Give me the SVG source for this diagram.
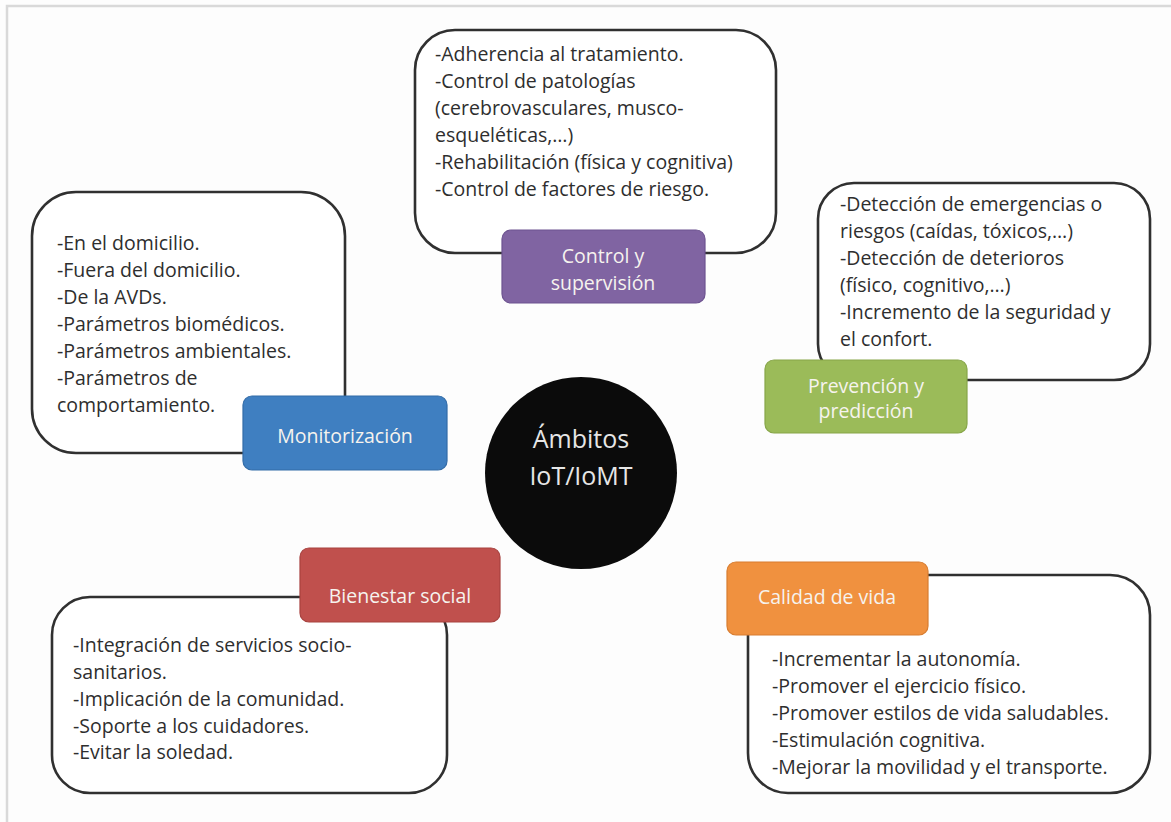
<svg xmlns="http://www.w3.org/2000/svg" width="1171" height="822" viewBox="0 0 1171 822">
<style>
.frame{fill:none;stroke:#d9d9d9;stroke-width:2.5}
.box{fill:#ffffff;stroke:#303030;stroke-width:2.6}
.txt{font-family:"Open Sans","Liberation Sans",sans-serif;font-size:19.5px;fill:#2e2e2e}
.lbl{stroke-width:1.2}
.lt{font-family:"Open Sans","Liberation Sans",sans-serif;font-size:19.5px;fill:#f6f3ee;text-anchor:middle}
.ct{font-family:"Open Sans","Liberation Sans",sans-serif;font-size:25px;fill:#e6e6e6;text-anchor:middle}
</style>
<rect width="1171" height="822" fill="#fdfdfd"/>
<path class="frame" d="M7,822 V6 H1171"/>
<g id="connectors"></g>

<g id="control">
<rect class="box" x="415" y="30" width="361" height="223" rx="40"/>
<text class="txt"><tspan x="435" y="61">-Adherencia al tratamiento.</tspan><tspan x="435" y="88">-Control de patologías</tspan><tspan x="435" y="115">(cerebrovasculares, musco-</tspan><tspan x="435" y="142">esqueléticas,…)</tspan><tspan x="435" y="169">-Rehabilitación (física y cognitiva)</tspan><tspan x="435" y="196">-Control de factores de riesgo.</tspan></text>
<rect class="lbl" x="502" y="230" width="203" height="73" rx="9" fill="#8064a2" stroke="#6d5390"/>
<text class="lt"><tspan x="603" y="263">Control y</tspan><tspan x="603" y="290">supervisión</tspan></text>
</g>

<g id="monitorizacion">
<rect class="box" x="32" y="192" width="313" height="261" rx="44"/>
<text class="txt"><tspan x="57" y="250">-En el domicilio.</tspan><tspan x="57" y="277">-Fuera del domicilio.</tspan><tspan x="57" y="304">-De la AVDs.</tspan><tspan x="57" y="331">-Parámetros biomédicos.</tspan><tspan x="57" y="358">-Parámetros ambientales.</tspan><tspan x="57" y="385">-Parámetros de</tspan><tspan x="57" y="412">comportamiento.</tspan></text>
<rect class="lbl" x="243" y="396" width="204" height="74" rx="9" fill="#3f7fc1" stroke="#336ca8"/>
<text class="lt" x="345" y="443">Monitorización</text>
</g>

<g id="prevencion">
<rect class="box" x="818" y="183" width="332" height="197" rx="36"/>
<text class="txt"><tspan x="840" y="211">-Detección de emergencias o</tspan><tspan x="840" y="238">riesgos (caídas, tóxicos,…)</tspan><tspan x="840" y="265">-Detección de deterioros</tspan><tspan x="840" y="292">(físico, cognitivo,…)</tspan><tspan x="840" y="319">-Incremento de la seguridad y</tspan><tspan x="840" y="346">el confort.</tspan></text>
<rect class="lbl" x="765" y="360" width="202" height="73" rx="9" fill="#9bbb59" stroke="#87a649"/>
<text class="lt"><tspan x="866" y="393">Prevención y</tspan><tspan x="866" y="418">predicción</tspan></text>
</g>

<g id="centro">
<circle cx="581" cy="473" r="96" fill="#0b0b0b"/>
<text class="ct"><tspan x="581" y="448">Ámbitos</tspan><tspan x="581" y="485">IoT/IoMT</tspan></text>
</g>

<g id="bienestar">
<rect class="box" x="52" y="597" width="395" height="196" rx="38"/>
<text class="txt"><tspan x="73" y="652">-Integración de servicios socio-</tspan><tspan x="73" y="679">sanitarios.</tspan><tspan x="73" y="706">-Implicación de la comunidad.</tspan><tspan x="73" y="733">-Soporte a los cuidadores.</tspan><tspan x="73" y="759">-Evitar la soledad.</tspan></text>
<rect class="lbl" x="300" y="548" width="200" height="74" rx="9" fill="#c0504d" stroke="#a8423f"/>
<text class="lt" x="400" y="603">Bienestar social</text>
</g>

<g id="calidad">
<rect class="box" x="748" y="575" width="402" height="218" rx="40"/>
<text class="txt"><tspan x="772" y="666">-Incrementar la autonomía.</tspan><tspan x="772" y="693">-Promover el ejercicio físico.</tspan><tspan x="772" y="720">-Promover estilos de vida saludables.</tspan><tspan x="772" y="747">-Estimulación cognitiva.</tspan><tspan x="772" y="774">-Mejorar la movilidad y el transporte.</tspan></text>
<rect class="lbl" x="727" y="562" width="201" height="73" rx="9" fill="#f0913f" stroke="#d87d30"/>
<text class="lt" x="827" y="604">Calidad de vida</text>
</g>
</svg>
